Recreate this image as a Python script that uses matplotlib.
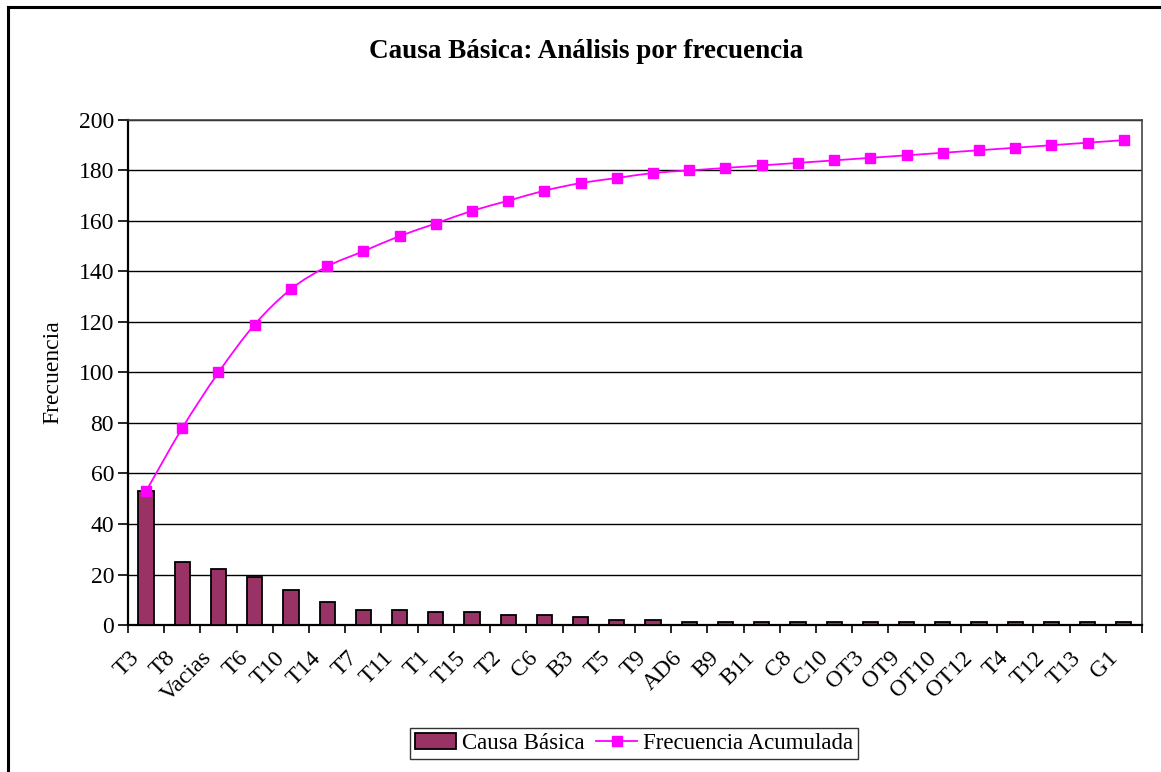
import matplotlib
matplotlib.use("Agg")
import matplotlib.pyplot as plt
from matplotlib.lines import Line2D
from matplotlib.path import Path
from matplotlib.patches import PathPatch
import matplotlib.transforms as mtransforms
import numpy as np

categories = ["T3", "T8", "Vacias", "T6", "T10", "T14", "T7", "T11", "T1", "T15",
              "T2", "C6", "B3", "T5", "T9", "AD6", "B9", "B11", "C8", "C10",
              "OT3", "OT9", "OT10", "OT12", "T4", "T12", "T13", "G1"]
causa_basica = [53, 25, 22, 19, 14, 9, 6, 6, 5, 5,
                4, 4, 3, 2, 2, 1, 1, 1, 1, 1,
                1, 1, 1, 1, 1, 1, 1, 1]
frecuencia_acumulada = [53, 78, 100, 119, 133, 142, 148, 154, 159, 164,
                        168, 172, 175, 177, 179, 180, 181, 182, 183, 184,
                        185, 186, 187, 188, 189, 190, 191, 192]
y_ticks = [0, 20, 40, 60, 80, 100, 120, 140, 160, 180, 200]

plt.rcParams["font.family"] = ["Liberation Serif", "DejaVu Serif"]

fig = plt.figure(figsize=(11.61, 7.72), dpi=100)
ax = fig.add_axes([0.1102, 0.1904, 0.8734, 0.6542])

x = np.arange(len(categories))
bars = ax.bar(x, causa_basica, width=0.42, color="#993366",
              edgecolor="black", linewidth=1.3, zorder=3, label="Causa Básica")

MAGENTA = "#FF00FF"


def smooth_path(xs, ys, tension=1 / 6):
    """Cubic Bezier path through the points (smoothed-line style)."""
    pts = np.column_stack([xs, ys]).astype(float)
    n = len(pts)
    verts = [pts[0]]
    codes = [Path.MOVETO]
    for i in range(n - 1):
        p0 = pts[i - 1] if i > 0 else pts[i]
        p1 = pts[i]
        p2 = pts[i + 1]
        p3 = pts[i + 2] if i + 2 < n else pts[i + 1]
        c1 = p1 + (p2 - p0) * tension
        c2 = p2 - (p3 - p1) * tension
        verts += [c1, c2, p2]
        codes += [Path.CURVE4] * 3
    return Path(verts, codes)


curve = PathPatch(smooth_path(x, frecuencia_acumulada), facecolor="none",
                  edgecolor=MAGENTA, linewidth=1.3, zorder=4)
ax.add_patch(curve)
ax.plot(x, frecuencia_acumulada, linestyle="none", marker="s", markersize=7,
        markerfacecolor=MAGENTA, markeredgecolor=MAGENTA, zorder=5)
line_handle = Line2D([], [], color=MAGENTA, linewidth=1.3, marker="s",
                     markersize=7, markerfacecolor=MAGENTA,
                     markeredgecolor=MAGENTA, label="Frecuencia Acumulada")

ax.set_xlim(-0.5, len(categories) - 0.5)
ax.set_ylim(0, 200)
ax.set_yticks(y_ticks)
ax.set_yticklabels([str(v) for v in y_ticks], fontsize=17)
ax.yaxis.grid(True, color="black", linewidth=1.0, zorder=0)
ax.set_axisbelow(True)

# category ticks sit between the bars, labels under each bar
ax.set_xticks(np.arange(len(categories) + 1) - 0.5)
ax.set_xticklabels([])
ax.set_xticks(x, minor=True)
ax.set_xticklabels(categories, minor=True, rotation=45, ha="right",
                   va="top", rotation_mode="anchor", fontsize=17)
ax.tick_params(axis="x", which="minor", length=0, pad=16)
ax.tick_params(axis="x", which="major", length=6, width=1.2, direction="out")
ax.tick_params(axis="y", length=7, width=1.2, direction="out", pad=3)

# nudge the slanted labels left so they end just before each bar centre
shift = mtransforms.ScaledTranslation(-17 / 100, 0, fig.dpi_scale_trans)
for lbl in ax.get_xticklabels(minor=True):
    lbl.set_transform(lbl.get_transform() + shift)

for side in ["left", "bottom"]:
    ax.spines[side].set_linewidth(1.6)
    ax.spines[side].set_color("black")
for side in ["top", "right"]:
    ax.spines[side].set_linewidth(1.2)
    ax.spines[side].set_color("#444444")

ax.set_ylabel("Frecuencia", fontsize=17, labelpad=11)

fig.text(0.505, 0.933, "Causa Básica: Análisis por frecuencia",
         ha="center", va="center", fontsize=19.5, fontweight="bold")

leg = fig.legend(handles=[bars, line_handle], loc="center",
                 bbox_to_anchor=(0.546, 0.037), ncol=2, fontsize=16.5,
                 frameon=True, fancybox=False, edgecolor="black",
                 handlelength=1.8, handletextpad=0.25, columnspacing=0.5,
                 borderpad=0.2, borderaxespad=0)
leg.get_frame().set_linewidth(1.0)

# outer chart border (left and top edges)
fig.add_artist(Line2D([0.0065, 0.0065], [0.0, 0.9915], transform=fig.transFigure,
                      color="black", linewidth=2.2))
fig.add_artist(Line2D([0.0065, 1.0], [0.9915, 0.9915], transform=fig.transFigure,
                      color="black", linewidth=2.2))

fig.savefig("out.png", dpi=100)
